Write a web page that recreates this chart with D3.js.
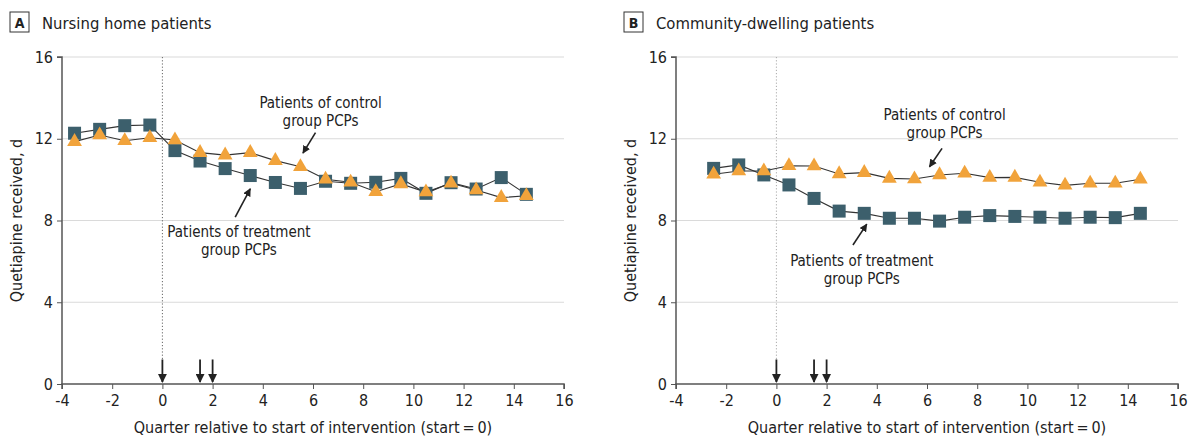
<!DOCTYPE html>
<html>
<head>
<meta charset="utf-8">
<script src="https://cdn.jsdelivr.net/npm/d3@7"></script>
<style>
  body { margin: 0; background: #fff; }
  text { font-family: "Liberation Sans Narrow", "DejaVu Sans Condensed", "Roboto", sans-serif; fill: #222; }
</style>
</head>
<body>
<svg id="chart" width="1188" height="437"></svg>
<script>
// quarters relative to start of intervention
const quartersA = [-3.5, -2.5, -1.5, -0.5, 0.5, 1.5, 2.5, 3.5, 4.5, 5.5, 6.5, 7.5, 8.5, 9.5, 10.5, 11.5, 12.5, 13.5, 14.5];
const treatmentA = [12.27, 12.46, 12.64, 12.67, 11.42, 10.91, 10.54, 10.2, 9.86, 9.57, 9.92, 9.82, 9.87, 10.06, 9.33, 9.85, 9.54, 10.1, 9.28];
const controlA = [11.86, 12.18, 11.9, 12.05, 11.94, 11.32, 11.2, 11.32, 10.93, 10.63, 10.02, 9.87, 9.41, 9.79, 9.39, 9.82, 9.49, 9.12, 9.21];

const quartersB = [-2.5, -1.5, -0.5, 0.5, 1.5, 2.5, 3.5, 4.5, 5.5, 6.5, 7.5, 8.5, 9.5, 10.5, 11.5, 12.5, 13.5, 14.5];
const treatmentB = [10.55, 10.72, 10.23, 9.74, 9.08, 8.46, 8.35, 8.11, 8.11, 7.97, 8.16, 8.24, 8.2, 8.16, 8.11, 8.16, 8.14, 8.35];
const controlB = [10.26, 10.42, 10.42, 10.68, 10.67, 10.28, 10.34, 10.06, 10.03, 10.23, 10.31, 10.1, 10.11, 9.87, 9.72, 9.82, 9.82, 10.02];

const xTicks = [-4, -2, 0, 2, 4, 6, 8, 10, 12, 14, 16];
const yTicks = [0, 4, 8, 12, 16];
const markerQuarters = [0, 1.5, 2];

const panels = [
  { letter: "A", title: "Nursing home patients", x0: 62, q: quartersA, treat: treatmentA, ctrl: controlA, dotColor: "#666",
    ctrlLabel: { x: 6.3, y: 13.5, tail: [6.1, 12.3], head: [5.6, 11.3] },
    treatLabel: { x: 3.05, y: 7.2, tail: [2.9, 8.17], head: [3.5, 9.55] } },
  { letter: "B", title: "Community-dwelling patients", x0: 676, q: quartersB, treat: treatmentB, ctrl: controlB, dotColor: "#aaa",
    ctrlLabel: { x: 6.7, y: 12.9, tail: [6.6, 11.53], head: [6.1, 10.63] },
    treatLabel: { x: 3.4, y: 5.75, tail: [3.05, 6.8], head: [3.6, 7.82] } }
];

const svg = d3.select("#chart");
const teal = "#3c5f6c", orange = "#f1a33b";
const plotW = 502, plotTop = 57, plotBottom = 384;
const fontStack = "'Liberation Sans Narrow', 'DejaVu Sans Condensed', Roboto, sans-serif";

svg.append("defs").append("marker")
  .attr("id", "ah").attr("viewBox", "0 0 10 10").attr("refX", 9).attr("refY", 5)
  .attr("markerWidth", 5).attr("markerHeight", 5).attr("orient", "auto")
  .append("path").attr("d", "M0,0 L10,5 L0,10 z").attr("fill", "#222");

panels.forEach(p => {
  const x = d3.scaleLinear().domain([-4, 16]).range([p.x0, p.x0 + plotW]);
  const y = d3.scaleLinear().domain([0, 16]).range([plotBottom, plotTop]);
  const g = svg.append("g");

  // title
  const bx = p.x0 - 52;
  g.append("rect").attr("x", bx).attr("y", 12).attr("width", 19).attr("height", 20)
    .attr("fill", "none").attr("stroke", "#333").attr("stroke-width", 1);
  g.append("text").attr("x", bx + 9.5).attr("y", 28).attr("text-anchor", "middle")
    .attr("font-size", 14).attr("font-weight", "bold").text(p.letter);
  g.append("text").attr("x", bx + 32).attr("y", 28.5).attr("font-size", 16.5).text(p.title);

  // gridlines
  g.append("g").selectAll("line").data(yTicks.filter(d => d > 0)).join("line")
    .attr("x1", x(-4)).attr("x2", x(16)).attr("y1", d => y(d)).attr("y2", d => y(d))
    .attr("stroke", "#dadada").attr("stroke-width", 1.2);

  // axes
  const yAxis = g.append("g").attr("transform", `translate(${x(-4)},0)`)
    .call(d3.axisLeft(y).tickValues(yTicks).tickSize(5).tickPadding(4));
  const xAxis = g.append("g").attr("transform", `translate(0,${plotBottom})`)
    .call(d3.axisBottom(x).tickValues(xTicks).tickFormat(d => String(d)).tickSize(5).tickPadding(6));
  [yAxis, xAxis].forEach(a => {
    a.select(".domain").attr("stroke", "#555").attr("stroke-width", 1.5);
    a.selectAll(".tick line").attr("stroke", "#555");
    a.selectAll("text").attr("font-size", 16).attr("fill", "#222").attr("font-family", fontStack);
  });
  yAxis.select(".domain").attr("d", `M-5,${y(16)}H0V${y(0)}`);
  xAxis.select(".domain").attr("d", `M${x(-4)},5V0H${x(16)}V5`);

  // axis titles
  g.append("text").attr("x", (x(-4) + x(16)) / 2).attr("y", 433).attr("text-anchor", "middle")
    .attr("font-size", 16).text("Quarter relative to start of intervention (start\u2009=\u20090)");
  g.append("text").attr("transform", `translate(${p.x0 - 40},${y(8)}) rotate(-90)`)
    .attr("text-anchor", "middle").attr("font-size", 16).text("Quetiapine received, d");

  // dotted line at start
  g.append("line").attr("x1", x(0)).attr("x2", x(0)).attr("y1", y(16)).attr("y2", y(1.2))
    .attr("stroke", p.dotColor).attr("stroke-dasharray", "1.2,2").attr("stroke-width", 1);

  // intervention arrows
  g.append("g").selectAll("line").data(markerQuarters).join("line")
    .attr("x1", d => x(d)).attr("x2", d => x(d)).attr("y1", y(1.2)).attr("y2", y(0) - 2)
    .attr("stroke", "#222").attr("stroke-width", 1.8).attr("marker-end", "url(#ah)");

  const line = d3.line().x(d => x(d[0])).y(d => y(d[1]));
  const treat = p.q.map((q, i) => [q, p.treat[i]]);
  const ctrl = p.q.map((q, i) => [q, p.ctrl[i]]);

  [treat, ctrl].forEach(s => g.append("path").attr("d", line(s))
    .attr("fill", "none").attr("stroke", "#333").attr("stroke-width", 1.1));

  g.append("g").selectAll("rect").data(treat).join("rect")
    .attr("x", d => x(d[0]) - 6.5).attr("y", d => y(d[1]) - 6.5)
    .attr("width", 13).attr("height", 13).attr("fill", teal);

  const tri = d3.symbol().type(d3.symbolTriangle).size(95);
  g.append("g").selectAll("path").data(ctrl).join("path")
    .attr("transform", d => `translate(${x(d[0])},${y(d[1])})`)
    .attr("d", tri).attr("fill", orange);

  // annotations
  [[p.ctrlLabel, "Patients of control", "group PCPs"], [p.treatLabel, "Patients of treatment", "group PCPs"]]
    .forEach(([a, l1, l2]) => {
      const t = g.append("text").attr("text-anchor", "middle").attr("font-size", 15);
      t.append("tspan").attr("x", x(a.x)).attr("y", y(a.y)).text(l1);
      t.append("tspan").attr("x", x(a.x)).attr("dy", 18).text(l2);
      g.append("line").attr("x1", x(a.tail[0])).attr("y1", y(a.tail[1]))
        .attr("x2", x(a.head[0])).attr("y2", y(a.head[1]))
        .attr("stroke", "#222").attr("stroke-width", 1.6).attr("marker-end", "url(#ah)");
    });
});
</script>
</body>
</html>
